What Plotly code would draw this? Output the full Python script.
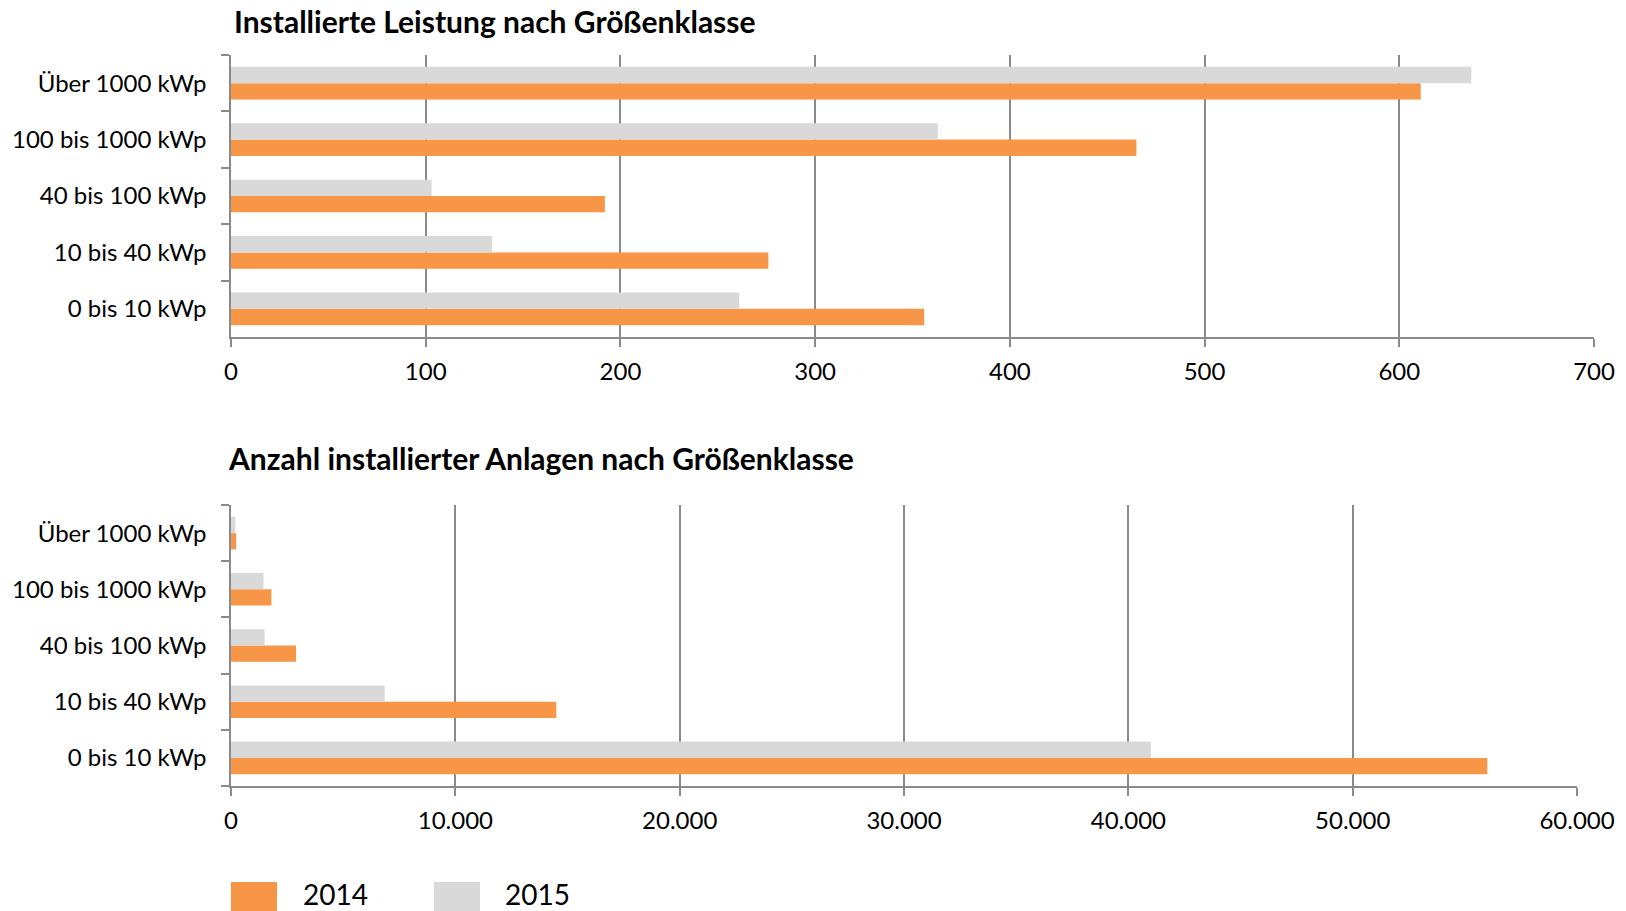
import plotly.graph_objects as go

categories = ["0 bis 10 kWp", "10 bis 40 kWp", "40 bis 100 kWp", "100 bis 1000 kWp", "Über 1000 kWp"]
leistung_2014 = [356, 276, 192, 465, 611]
leistung_2015 = [261, 134, 103, 363, 637]
anlagen_2014 = [56000, 14500, 2900, 1800, 230]
anlagen_2015 = [41000, 6850, 1500, 1450, 190]
title_top = "Installierte Leistung nach Größenklasse"
title_bottom = "Anzahl installierter Anlagen nach Größenklasse"
years = ["2014", "2015"]
colors = {"2014": "#F79646", "2015": "#D9D9D9"}

W, H = 1626, 911
FONT = "Lato"
GRID = "#8a8a8a"

def px(x):
    return x / W

def py(y):
    return 1 - y / H

fig = go.Figure()
fig.add_trace(go.Bar(y=categories, x=leistung_2014, orientation="h", name="2014",
                     marker=dict(color=colors["2014"], line=dict(width=0)),
                     xaxis="x", yaxis="y", showlegend=False))
fig.add_trace(go.Bar(y=categories, x=leistung_2015, orientation="h", name="2015",
                     marker=dict(color=colors["2015"], line=dict(width=0)),
                     xaxis="x", yaxis="y", showlegend=False))
fig.add_trace(go.Bar(y=categories, x=anlagen_2014, orientation="h", name="2014",
                     marker=dict(color=colors["2014"], line=dict(width=0)),
                     xaxis="x2", yaxis="y2", showlegend=False))
fig.add_trace(go.Bar(y=categories, x=anlagen_2015, orientation="h", name="2015",
                     marker=dict(color=colors["2015"], line=dict(width=0)),
                     xaxis="x2", yaxis="y2", showlegend=False))

xcommon = dict(showgrid=True, gridcolor=GRID, gridwidth=1.5, zeroline=False,
               showline=True, linecolor=GRID, linewidth=1.5, automargin=False,
               ticks="outside", ticklen=8, tickcolor=GRID, tickwidth=1.5,
               tickfont=dict(family=FONT, size=24, color="#000"), fixedrange=True)
ycommon = dict(type="category", showgrid=False, zeroline=False, automargin=False,
               showline=True, linecolor=GRID, linewidth=1.5,
               ticks="outside", ticklen=8, tickcolor=GRID, tickwidth=1.5,
               tickson="boundaries", ticklabelstandoff=18,
               tickfont=dict(family=FONT, size=24, color="#000"), fixedrange=True)

fig.update_layout(
    width=W, height=H,
    margin=dict(l=0, r=0, t=0, b=0, autoexpand=False),
    paper_bgcolor="white", plot_bgcolor="white",
    barmode="group", bargap=0.42, bargroupgap=0,
    separators=",.",
    font=dict(family=FONT, color="#000"),
    xaxis=dict(domain=[px(231), px(1594)], anchor="y", range=[0, 700], dtick=100,
               tick0=0, ticklabelstandoff=4, **xcommon),
    yaxis=dict(domain=[py(337), py(55)], anchor="x", **ycommon),
    xaxis2=dict(domain=[px(231), px(1577)], anchor="y2", range=[0, 60000], dtick=10000,
                tick0=0, tickformat=",.0f", ticklabelstandoff=4, **xcommon),
    yaxis2=dict(domain=[py(786), py(505)], anchor="x2", **ycommon),
    showlegend=False,
)

fig.add_annotation(text="<b>" + title_top + "</b>", xref="paper", yref="paper",
                   x=px(232), y=py(21), xanchor="left", yanchor="middle", showarrow=False,
                   font=dict(family=FONT, size=30, color="#000"))
fig.add_annotation(text="<b>" + title_bottom + "</b>", xref="paper", yref="paper",
                   x=px(226), y=py(458), xanchor="left", yanchor="middle", showarrow=False,
                   font=dict(family=FONT, size=30, color="#000"))

legend_pos = {"2014": (231, 301), "2015": (434, 503)}
for yr in years:
    sx, tx = legend_pos[yr]
    fig.add_shape(type="rect", xref="paper", yref="paper",
                  x0=px(sx), x1=px(sx + 46), y0=py(930), y1=py(882),
                  fillcolor=colors[yr], line=dict(width=0))
    fig.add_annotation(text=yr, xref="paper", yref="paper", x=px(tx), y=py(894),
                       xanchor="left", yanchor="middle", showarrow=False,
                       font=dict(family=FONT, size=28, color="#000"))

fig.write_html("out.html", config={"displayModeBar": False},
               post_script="document.body.style.margin='0';document.body.style.overflow='hidden';")
